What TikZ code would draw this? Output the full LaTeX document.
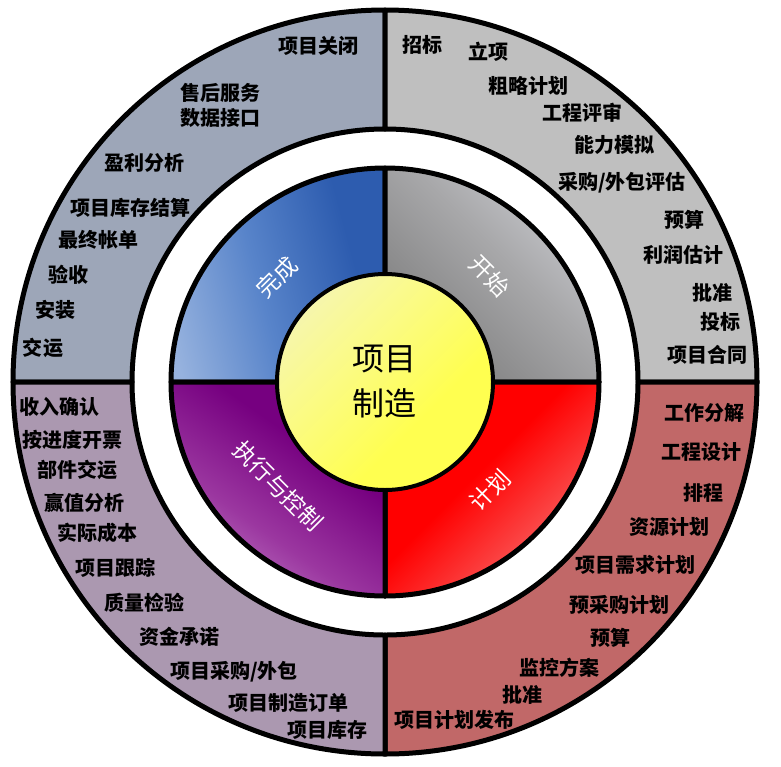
\documentclass[tikz,border=0pt]{standalone}
\usepackage{fontspec}
\newfontfamily\cjk{Noto Sans CJK SC}
\definecolor{outTL}{RGB}{157,166,184}
\definecolor{outTR}{RGB}{191,191,191}
\definecolor{outBL}{RGB}{171,152,176}
\definecolor{outBR}{RGB}{193,104,104}
\definecolor{blueL}{RGB}{150,178,222}
\definecolor{blueM}{RGB}{88,132,202}
\definecolor{blueD}{RGB}{45,92,175}
\definecolor{grayL}{RGB}{218,220,226}
\definecolor{grayM}{RGB}{168,168,170}
\definecolor{grayD}{RGB}{125,125,125}
\definecolor{purL}{RGB}{205,145,210}
\definecolor{purM}{RGB}{155,55,160}
\definecolor{purD}{RGB}{118,0,128}
\definecolor{redL}{RGB}{242,165,165}
\definecolor{redM}{RGB}{250,75,75}
\definecolor{redD}{RGB}{255,0,0}
\definecolor{yelL}{RGB}{242,242,205}
\definecolor{yelM}{RGB}{250,250,140}
\definecolor{yelD}{RGB}{255,255,80}
\pgfdeclareverticalshading{shBlue}{100bp}{color(0bp)=(blueD); color(32bp)=(blueD); color(55bp)=(blueM); color(78bp)=(blueL); color(100bp)=(blueL)}
\pgfdeclareverticalshading{shGray}{100bp}{color(0bp)=(grayD); color(25bp)=(grayD); color(55bp)=(grayM); color(85bp)=(grayL); color(100bp)=(grayL)}
\pgfdeclareverticalshading{shPur}{100bp}{color(0bp)=(purD); color(38bp)=(purD); color(60bp)=(purM); color(82bp)=(purL); color(100bp)=(purL)}
\pgfdeclareverticalshading{shRed}{100bp}{color(0bp)=(redD); color(45bp)=(redD); color(65bp)=(redM); color(85bp)=(redL); color(100bp)=(redL)}
\pgfdeclareverticalshading{shYel}{100bp}{color(0bp)=(yelD); color(38bp)=(yelD); color(62bp)=(yelM); color(88bp)=(yelL); color(100bp)=(yelL)}
\begin{document}
\begin{tikzpicture}[x=1pt,y=-1pt,
  ring/.style={draw=black, line width=5pt, line join=round},
  outertext/.style={font=\cjk\bfseries\fontsize{20}{22}\selectfont, text=black, inner sep=0pt},
  phasetext/.style={font=\cjk\fontsize{23}{25}\selectfont, text=white, inner sep=0pt},
  centertext/.style={font=\cjk\fontsize{32}{34}\selectfont, text=black, inner sep=0pt}]
\useasboundingbox (0,0) rectangle (781,766);
\fill[white] (0,0) rectangle (781,766);
\coordinate (C) at (385,382);
% outer ring sectors
\path[ring, fill=outTL] ([shift={(180:372)}]C) arc[start angle=180,end angle=270,radius=372] -- ([shift={(270:253)}]C) arc[start angle=270,end angle=180,radius=253] -- cycle;
\path[ring, fill=outTR] ([shift={(270:372)}]C) arc[start angle=270,end angle=360,radius=372] -- ([shift={(0:253)}]C) arc[start angle=360,end angle=270,radius=253] -- cycle;
\path[ring, fill=outBR] ([shift={(0:372)}]C) arc[start angle=0,end angle=90,radius=372] -- ([shift={(90:253)}]C) arc[start angle=90,end angle=0,radius=253] -- cycle;
\path[ring, fill=outBL] ([shift={(90:372)}]C) arc[start angle=90,end angle=180,radius=372] -- ([shift={(180:253)}]C) arc[start angle=180,end angle=90,radius=253] -- cycle;
% inner ring sectors
\path[ring, shade, shading=shBlue, shading angle=105] ([shift={(180:214)}]C) arc[start angle=180,end angle=270,radius=214] -- ([shift={(270:100)}]C) arc[start angle=270,end angle=180,radius=100] -- cycle;
\path[ring, shade, shading=shGray, shading angle=-45] ([shift={(270:214)}]C) arc[start angle=270,end angle=360,radius=214] -- ([shift={(0:100)}]C) arc[start angle=360,end angle=270,radius=100] -- cycle;
\path[ring, shade, shading=shRed, shading angle=-135] ([shift={(0:214)}]C) arc[start angle=0,end angle=90,radius=214] -- ([shift={(90:100)}]C) arc[start angle=90,end angle=0,radius=100] -- cycle;
\path[ring, shade, shading=shPur, shading angle=145] ([shift={(90:214)}]C) arc[start angle=90,end angle=180,radius=214] -- ([shift={(180:100)}]C) arc[start angle=180,end angle=90,radius=100] -- cycle;
% centre
\path[draw=black, line width=4pt, shade, shading=shYel, shading angle=45] (C) circle[radius=108];
\node[centertext] (c1) at (384,359) {项目};
\node[centertext] (c2) at (384,403) {制造};
% phase labels
\node[phasetext, rotate=45] (p1) at (277,277) {完成};
\node[phasetext, rotate=-45] (p2) at (490,276) {开始};
\node[phasetext, rotate=45] (p3) at (490,490) {计划};
\node[phasetext, rotate=-45] (p4) at (278,486) {执行与控制};
% top-left
\node[outertext] (a1) at (318,46) {项目关闭};
\node[outertext] (a2) at (220,93) {售后服务};
\node[outertext] (a3) at (220,118) {数据接口};
\node[outertext] (a4) at (144,163) {盈利分析};
\node[outertext] (a5) at (130,208) {项目库存结算};
\node[outertext] (a6) at (98,240) {最终帐单};
\node[outertext] (a7) at (68,275) {验收};
\node[outertext] (a8) at (55,310) {安装};
\node[outertext] (a9) at (43,348) {交运};
% top-right
\node[outertext] (b1) at (422,45) {招标};
\node[outertext] (b2) at (488,52) {立项};
\node[outertext] (b3) at (528,86) {粗略计划};
\node[outertext] (b4) at (582,113) {工程评审};
\node[outertext] (b5) at (614,145) {能力模拟};
\node[outertext] (b6) at (622,183) {采购/外包评估};
\node[outertext] (b7) at (684,220) {预算};
\node[outertext] (b8) at (683,255) {利润估计};
\node[outertext] (b9) at (712,293) {批准};
\node[outertext] (b10) at (720,322) {投标};
\node[outertext] (b11) at (707,355) {项目合同};
% bottom-left
\node[outertext] (d1) at (59,407) {收入确认};
\node[outertext] (d2) at (72,440) {按进度开票};
\node[outertext] (d3) at (77,470) {部件交运};
\node[outertext] (d4) at (84,503) {赢值分析};
\node[outertext] (d5) at (97,533) {实际成本};
\node[outertext] (d6) at (115,568) {项目跟踪};
\node[outertext] (d7) at (144,603) {质量检验};
\node[outertext] (d8) at (179,637) {资金承诺};
\node[outertext] (d9) at (234,672) {项目采购/外包};
\node[outertext] (d10) at (288,703) {项目制造订单};
\node[outertext] (d11) at (327,730) {项目库存};
% bottom-right
\node[outertext] (e1) at (704,413) {工作分解};
\node[outertext] (e2) at (701,452) {工程设计};
\node[outertext] (e3) at (703,493) {排程};
\node[outertext] (e4) at (669,527) {资源计划};
\node[outertext] (e5) at (635,565) {项目需求计划};
\node[outertext] (e6) at (619,605) {预采购计划};
\node[outertext] (e7) at (610,638) {预算};
\node[outertext] (e8) at (559,668) {监控方案};
\node[outertext] (e9) at (522,695) {批准};
\node[outertext] (e10) at (454,720) {项目计划发布};
\end{tikzpicture}
\end{document}
